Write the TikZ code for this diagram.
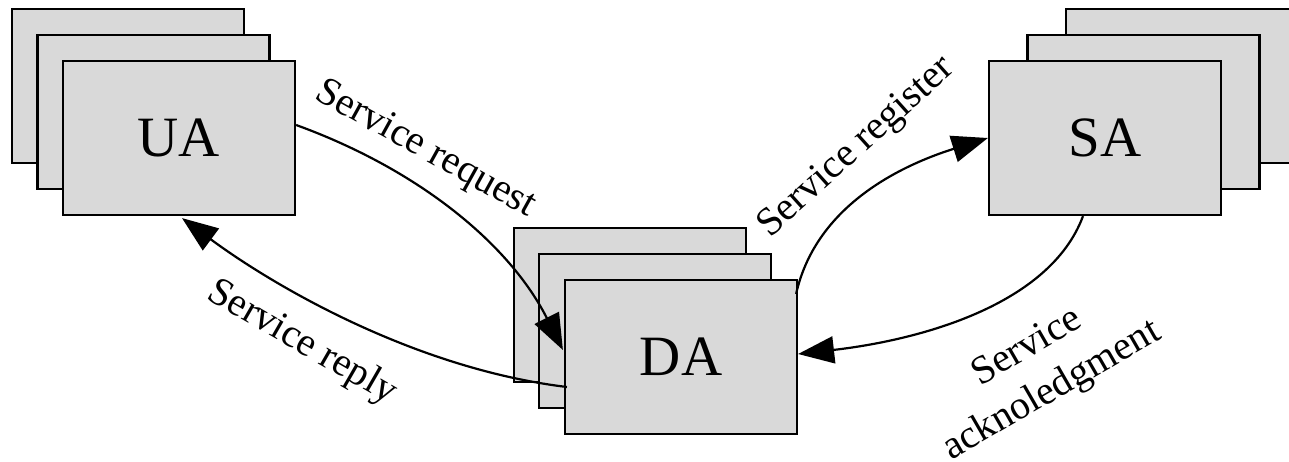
\documentclass[tikz,border=0pt]{standalone}
\usepackage{fontspec}
\setmainfont{Liberation Serif}
\usetikzlibrary{arrows.meta,calc}
\definecolor{boxgray}{RGB}{217,217,217}
\tikzset{
  agent/.style={draw=black, line width=2.2pt, fill=boxgray, minimum width=232pt, minimum height=154pt, inner sep=0pt, font=\fontsize{57}{60}\selectfont},
  flow/.style={line width=2.2pt, -{Triangle[length=36pt,width=27pt]}},
  lbl/.style={font=\fontsize{40}{50}\selectfont, inner sep=0pt, align=center}
}
\begin{document}
\begin{tikzpicture}[x=1pt,y=-1pt]
\clip (0,0) rectangle (1289,462);
% UA stack
\node[agent] (UA3) at (128,86) {};
\node[agent] (UA2) at (153.5,112) {};
\node[agent] (UA) at (179,138) {UA};
% DA stack
\node[agent] (DA3) at (630,305) {};
\node[agent] (DA2) at (655,331) {};
\node[agent] (DA) at (681,357) {DA};
% SA stack
\node[agent] (SA3) at (1182,86) {};
\node[agent] (SA2) at (1143.5,112) {};
\node[agent] (SA) at (1105,138) {SA};
% connector end points
\coordinate (rqS) at ($(UA.east)+(0,-13)$);
\coordinate (rqE) at ($(DA.west)+(-1,-7)$);
\coordinate (rpS) at ($(DA.west)+(3,30)$);
\coordinate (rpE) at ($(UA.south)+(3,2)$);
\coordinate (rgS) at ($(DA.north east)+(-2,15)$);
\coordinate (rgE) at (SA.west);
\coordinate (akS) at ($(SA.south)+(-22,0)$);
\coordinate (akE) at ($(DA.east)+(0,-3)$);
% connectors
\draw[flow] (rqS) .. controls (420,170) and (510,245) .. (rqE);
\draw[flow] (rpS) .. controls (418,369) and (278,289) .. (rpE);
\draw[flow] (rgS) .. controls (815,210) and (893,168) .. (rgE);
\draw[flow] (akS) .. controls (1050,305) and (920,340) .. (akE);
% labels
\node[lbl, rotate=-29] (lrq) at (425,150) {Service request};
\node[lbl, rotate=-30] (lrp) at (302,343) {Service reply};
\node[lbl, rotate=42] (lrg) at (857,148) {Service register};
\node[lbl, rotate=30] (lak) at (1040,370) {Service\\acknoledgment};
\end{tikzpicture}
\end{document}
